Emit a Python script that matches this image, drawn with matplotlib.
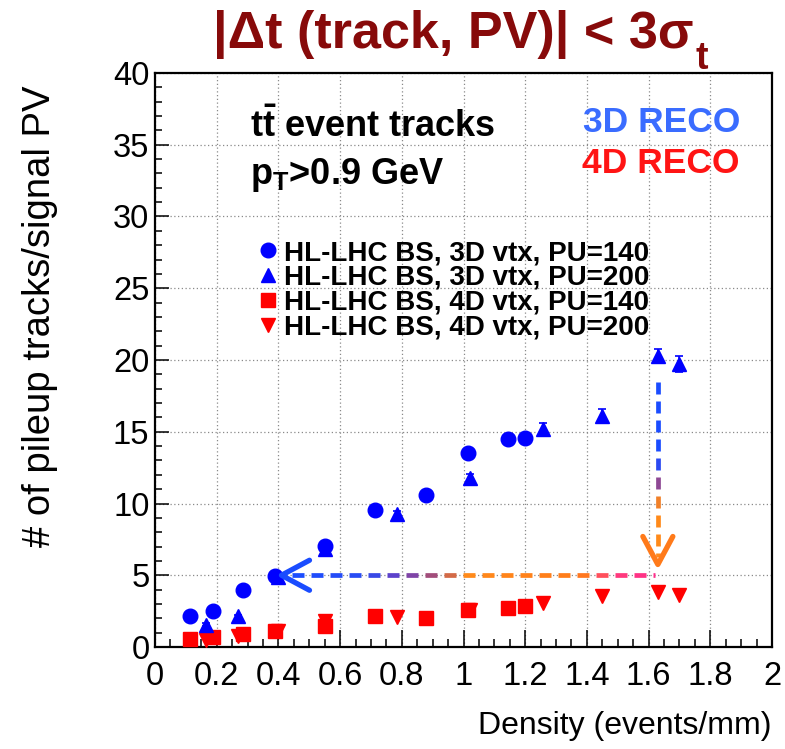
import numpy as np
import matplotlib
matplotlib.use("Agg")
import matplotlib.pyplot as plt
from matplotlib.colors import LinearSegmentedColormap
from matplotlib.lines import Line2D

# ---------------- data ----------------
dens_3d_140 = [0.115, 0.187, 0.284, 0.389, 0.55, 0.714, 0.878, 1.016, 1.144, 1.199]
trk_3d_140 = [2.14, 2.53, 4.0, 4.93, 7.02, 9.58, 10.56, 13.49, 14.47, 14.58]

dens_3d_200 = [0.164, 0.268, 0.40, 0.55, 0.784, 1.02, 1.258, 1.449, 1.63, 1.698]
trk_3d_200 = [1.56, 2.14, 4.9, 6.8, 9.28, 11.8, 15.16, 16.1, 20.3, 19.74]
err_3d_200 = [0.1, 0.1, 0.15, 0.2, 0.2, 0.25, 0.45, 0.5, 0.5, 0.55]

dens_4d_140 = [0.115, 0.187, 0.284, 0.389, 0.55, 0.714, 0.878, 1.016, 1.144, 1.199]
trk_4d_140 = [0.56, 0.67, 0.9, 1.14, 1.44, 2.14, 2.02, 2.6, 2.72, 2.88]

dens_4d_200 = [0.164, 0.268, 0.40, 0.55, 0.784, 1.02, 1.258, 1.449, 1.63, 1.698]
trk_4d_200 = [0.51, 0.74, 1.1, 1.8, 2.07, 2.6, 3.07, 3.53, 3.84, 3.65]

labels = ["HL-LHC BS, 3D vtx, PU=140", "HL-LHC BS, 3D vtx, PU=200",
          "HL-LHC BS, 4D vtx, PU=140", "HL-LHC BS, 4D vtx, PU=200"]

# arrows: 4D reco at high density gives same pileup as 3D reco at low density
arrow_h = [(0.445, 5.05), (1.622, 5.05)]   # horizontal dashed line (left -> right)
arrow_h_tip = (0.41, 5.0)
arrow_v = [(1.63, 18.5), (1.63, 6.3)]      # vertical dashed line (top -> bottom)
arrow_v_tip = (1.63, 5.75)

# ---------------- style ----------------
plt.rcParams['font.family'] = ['Liberation Sans', 'DejaVu Sans']
plt.rcParams['mathtext.fontset'] = 'custom'
plt.rcParams['mathtext.rm'] = 'Liberation Sans'
plt.rcParams['mathtext.bf'] = 'Liberation Sans:bold'

BLUE = '#0000ff'
RED = '#ff0000'
TITLE_RED = '#870a0a'

fig = plt.figure(figsize=(7.85, 7.49), dpi=100)
ax = fig.add_axes([155/785, 102/749, 617/785, 574/749])

ax.set_xlim(0, 2)
ax.set_ylim(0, 40)
ax.set_autoscale_on(False)

# grid + ticks
ax.set_xticks(np.arange(0, 2.01, 0.2))
ax.set_xticklabels(['0', '0.2', '0.4', '0.6', '0.8', '1', '1.2', '1.4', '1.6', '1.8', '2'])
ax.set_yticks(np.arange(0, 41, 5))
ax.set_xticks(np.arange(0, 2.001, 0.05), minor=True)
ax.set_yticks(np.arange(0, 41, 1), minor=True)
ax.grid(True, which='major', linestyle=(0, (1, 2)), color='#8a8a8a', lw=0.9)
ax.tick_params(axis='both', which='both', direction='in', top=False, right=False,
               labelsize=23.5, width=1.1)
ax.tick_params(axis='x', which='major', length=12, pad=10)
ax.tick_params(axis='x', which='minor', length=6)
ax.tick_params(axis='y', which='major', length=10, pad=4)
ax.tick_params(axis='y', which='minor', length=5)
for sp in ax.spines.values():
    sp.set_linewidth(1.6)

ax.set_xlabel("Density (events/mm)", fontsize=23, loc='right', labelpad=14)
ax.set_ylabel("# of pileup tracks/signal PV", fontsize=27.5, loc='top')
ax.yaxis.set_label_coords(-0.158, 0.979)

# ---------------- markers ----------------
ax.plot(dens_4d_140, trk_4d_140, 's', color=RED, ms=9.5, zorder=4)
ax.plot(dens_4d_200, trk_4d_200, 'v', color=RED, ms=10, zorder=4)
ax.errorbar(dens_3d_200, trk_3d_200, yerr=err_3d_200, fmt='^', color=BLUE,
            ms=10, elinewidth=1.2, capsize=3, capthick=1.2, zorder=5)
ax.plot(dens_3d_140, trk_3d_140, 'o', color=BLUE, ms=10.5, zorder=5)


# ---------------- gradient dashed arrows ----------------
def gradient_dashes(ax, start, end, stops, dash=12, gap=7, lw=3.4):
    p0 = ax.transData.transform(start)
    p1 = ax.transData.transform(end)
    total = np.hypot(*(p1 - p0))
    u = (p1 - p0) / total
    cmap = LinearSegmentedColormap.from_list('grad', stops)
    inv = ax.transData.inverted()
    s = 0.0
    while s < total:
        e = min(s + dash, total)
        seg = inv.transform([p0 + u * s, p0 + u * e])
        ax.plot(seg[:, 0], seg[:, 1], color=cmap(0.5 * (s + e) / total), lw=lw,
                solid_capstyle='butt', zorder=6)
        s += dash + gap


def chevron(ax, tip, direction, color, length=28, half=15, lw=3.8):
    t = ax.transData.transform(tip)
    d = np.array(direction, float)
    d = d / np.hypot(*d)
    n = np.array([-d[1], d[0]])
    b = t - d * length
    pts = ax.transData.inverted().transform([b + n * half, t, b - n * half])
    ax.plot(pts[:, 0], pts[:, 1], color=color, lw=lw, solid_capstyle='round',
            solid_joinstyle='round', zorder=7)


h_stops = [(0.0, '#1a4cff'), (0.2, '#2a4cf2'), (0.3, '#6a3fc0'), (0.4, '#b0506a'),
           (0.48, '#ff8a1a'), (0.8, '#ff7a1a'), (0.88, '#ff3c7a'), (1.0, '#ff2d8a')]
v_stops = [(0.0, '#1a4cff'), (0.45, '#1a4cff'), (0.53, '#6a3fc0'), (0.62, '#b0506a'),
           (0.7, '#ff8a1a'), (1.0, '#ff8a1a')]

gradient_dashes(ax, arrow_h[0], arrow_h[1], h_stops)
gradient_dashes(ax, arrow_v[0], arrow_v[1], v_stops)
chevron(ax, arrow_h_tip, (-1, 0), '#1a4cff')
chevron(ax, arrow_v_tip, (0, -1), '#ff7a1a')

# ---------------- texts ----------------
ax.text(0.154, 0.907, r"$\mathbf{t\bar{t}}$ event tracks", transform=ax.transAxes,
        fontsize=26, fontweight='bold', va='center', ha='left')
ax.text(0.154, 0.822, r"$\mathbf{p_{T}}$>0.9 GeV", transform=ax.transAxes,
        fontsize=26, fontweight='bold', va='center', ha='left')
ax.text(0.948, 0.914, "3D RECO", transform=ax.transAxes, fontsize=25.5,
        fontweight='bold', color='#3a6cff', ha='right', va='center')
ax.text(0.948, 0.843, "4D RECO", transform=ax.transAxes, fontsize=25.5,
        fontweight='bold', color='#ff1414', ha='right', va='center')

handles = [Line2D([], [], ls='none', marker='o', color=BLUE, ms=10.5),
           Line2D([], [], ls='none', marker='^', color=BLUE, ms=10.5),
           Line2D([], [], ls='none', marker='s', color=RED, ms=9.5),
           Line2D([], [], ls='none', marker='v', color=RED, ms=10.5)]
leg = ax.legend(handles, labels, loc='upper left', bbox_to_anchor=(0.167, 0.709),
                frameon=False, prop={'size': 20, 'weight': 'bold'},
                handlelength=0.7, handletextpad=0.25, labelspacing=-0.04,
                borderpad=0.0, borderaxespad=0.0)

# title with subscript
title = fig.text(0.578, 0.954, "|Δt (track, PV)| < 3σ", fontsize=37.5,
                 fontweight='bold', color=TITLE_RED, ha='center', va='center')
ax.annotate("t", xy=(1, 0.12), xycoords=title, xytext=(1, -4), textcoords='offset points',
            fontsize=27, fontweight='bold', color=TITLE_RED, ha='left', va='center',
            annotation_clip=False)

fig.savefig("out.png", dpi=100)
